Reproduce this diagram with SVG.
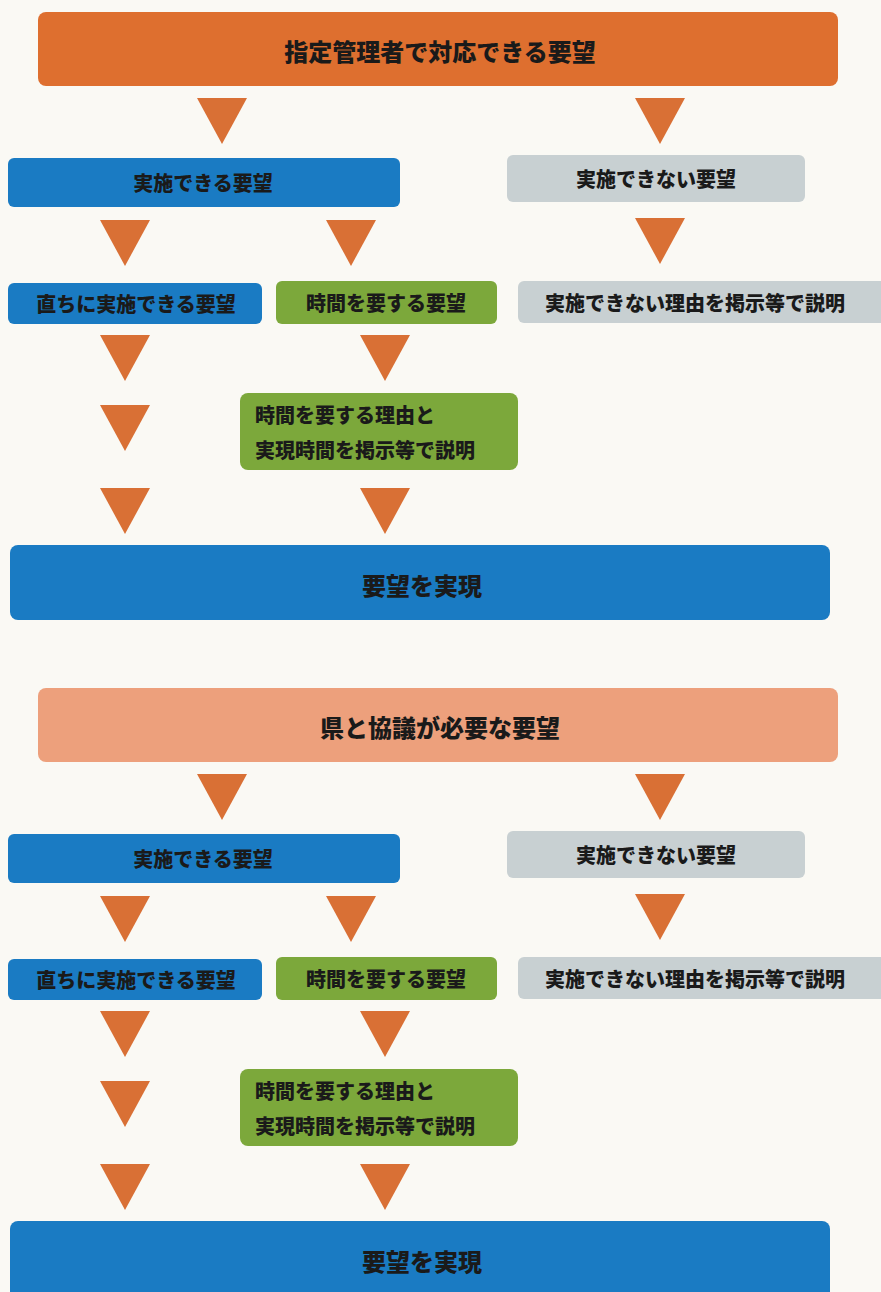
<svg xmlns="http://www.w3.org/2000/svg" width="881" height="1292" viewBox="0 0 881 1292">
<style>
.bg{fill:#FAF9F4}
.orange{fill:#DE6F2F}
.lorange{fill:#EDA07C}
.blue{fill:#1A7BC3}
.green{fill:#7CA83B}
.gray{fill:#C8D0D2}
.arrow{fill:#D97035}
text{font-family:"Noto Sans CJK JP","Noto Sans CJK SC",sans-serif;font-weight:900;fill:#1A1A1A;dominant-baseline:central}
.c{text-anchor:middle}
.h{font-size:24px}
.b{font-size:20px}
</style>
<rect class="bg" x="0" y="0" width="881" height="1292"/>

<!-- Section 1 -->
<g id="s1-top"><rect class="orange" x="38" y="12" width="800" height="74" rx="8"/><text class="c h" x="440" y="50">指定管理者で対応できる要望</text></g>
<g id="s1-can"><rect class="blue" x="8" y="158" width="392" height="49" rx="6"/><text class="c b" x="203" y="182">実施できる要望</text></g>
<g id="s1-cannot"><rect class="gray" x="507" y="155" width="298" height="47" rx="6"/><text class="c b" x="656" y="178">実施できない要望</text></g>
<g id="s1-now"><rect class="blue" x="8" y="283" width="254" height="41" rx="6"/><text class="c b" x="136" y="303">直ちに実施できる要望</text></g>
<g id="s1-time"><rect class="green" x="276" y="281" width="221" height="43" rx="6"/><text class="c b" x="386" y="302">時間を要する要望</text></g>
<g id="s1-reason"><rect class="gray" x="518" y="281" width="370" height="42" rx="6"/><text class="c b" x="695" y="302">実施できない理由を掲示等で説明</text></g>
<g id="s1-explain"><rect class="green" x="240" y="393" width="278" height="77" rx="8"/><text class="b" x="255" y="414">時間を要する理由と</text><text class="b" x="255" y="449">実現時間を掲示等で説明</text></g>
<g id="s1-realize"><rect class="blue" x="10" y="545" width="820" height="75" rx="8"/><text class="c h" x="422" y="584">要望を実現</text></g>

<!-- Section 2 -->
<g id="s2-top"><rect class="lorange" x="38" y="688" width="800" height="74" rx="8"/><text class="c h" x="440" y="726">県と協議が必要な要望</text></g>
<g id="s2-can"><rect class="blue" x="8" y="834" width="392" height="49" rx="6"/><text class="c b" x="203" y="858">実施できる要望</text></g>
<g id="s2-cannot"><rect class="gray" x="507" y="831" width="298" height="47" rx="6"/><text class="c b" x="656" y="854">実施できない要望</text></g>
<g id="s2-now"><rect class="blue" x="8" y="959" width="254" height="41" rx="6"/><text class="c b" x="136" y="979">直ちに実施できる要望</text></g>
<g id="s2-time"><rect class="green" x="276" y="957" width="221" height="43" rx="6"/><text class="c b" x="386" y="978">時間を要する要望</text></g>
<g id="s2-reason"><rect class="gray" x="518" y="957" width="370" height="42" rx="6"/><text class="c b" x="695" y="978">実施できない理由を掲示等で説明</text></g>
<g id="s2-explain"><rect class="green" x="240" y="1069" width="278" height="77" rx="8"/><text class="b" x="255" y="1090">時間を要する理由と</text><text class="b" x="255" y="1125">実現時間を掲示等で説明</text></g>
<g id="s2-realize"><rect class="blue" x="10" y="1221" width="820" height="80" rx="8"/><text class="c h" x="422" y="1260">要望を実現</text></g>

<g id="connectors">
<polygon class="arrow" points="197,98 247,98 222,144"/>
<polygon class="arrow" points="635,98 685,98 660,144"/>
<polygon class="arrow" points="100,220 150,220 125,266"/>
<polygon class="arrow" points="326,220 376,220 351,266"/>
<polygon class="arrow" points="635,218 685,218 660,264"/>
<polygon class="arrow" points="100,335 150,335 125,381"/>
<polygon class="arrow" points="360,335 410,335 385,381"/>
<polygon class="arrow" points="100,405 150,405 125,451"/>
<polygon class="arrow" points="100,488 150,488 125,534"/>
<polygon class="arrow" points="360,488 410,488 385,534"/>

<polygon class="arrow" points="197,774 247,774 222,820"/>
<polygon class="arrow" points="635,774 685,774 660,820"/>
<polygon class="arrow" points="100,896 150,896 125,942"/>
<polygon class="arrow" points="326,896 376,896 351,942"/>
<polygon class="arrow" points="635,894 685,894 660,940"/>
<polygon class="arrow" points="100,1011 150,1011 125,1057"/>
<polygon class="arrow" points="360,1011 410,1011 385,1057"/>
<polygon class="arrow" points="100,1081 150,1081 125,1127"/>
<polygon class="arrow" points="100,1164 150,1164 125,1210"/>
<polygon class="arrow" points="360,1164 410,1164 385,1210"/>
</g>
</svg>
